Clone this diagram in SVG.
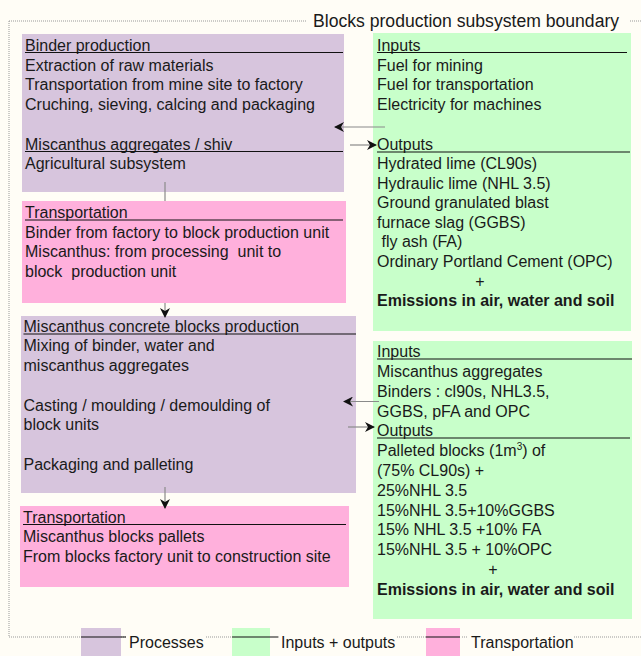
<svg xmlns="http://www.w3.org/2000/svg" width="641" height="656" viewBox="0 0 641 656">
<defs>
<marker id="ah" viewBox="0 0 10 10" refX="9" refY="5" markerWidth="10" markerHeight="10" markerUnits="userSpaceOnUse" orient="auto">
<path d="M0,0 L10,5 L0,10 L3,5 Z" fill="#111"/>
</marker>
</defs>
<style>
text{font-family:"Liberation Sans",Arial,sans-serif;font-size:16px;fill:#1a1a1a;white-space:pre}
.b{font-weight:bold}
.t{font-size:17.6px}
.proc{fill:#d7c5dd}
.io{fill:#c8ffca}
.tr{fill:#ffb0dc}
.ul{stroke:#111;stroke-width:1.2}
.conn{stroke:#8a8a8a;stroke-width:1.2;fill:none}
.dot{stroke:#999;stroke-width:1;stroke-dasharray:1 1;fill:none}
</style>
<rect width="641" height="656" fill="#fffdf6"/>
<g id="boundary">
<path class="dot" d="M9,21 H306 M630,21 H641 M9,21 V637 H81 M121,637 H126 M206,637 H232 M278,637 H280 M397,637 H426 M462,637 H468 M574,637 H641"/>
<text class="t" x="313" y="27">Blocks production subsystem boundary</text>
</g>
<g id="binder-production">
<rect class="proc" x="22" y="34" width="322" height="158"/>
<text x="25" y="51">Binder production</text>
<line class="ul" x1="25" y1="52.5" x2="343" y2="52.5"/>
<text x="25" y="70.7">Extraction of raw materials</text>
<text x="25" y="90.4">Transportation from mine site to factory</text>
<text x="25" y="110.1">Cruching, sieving, calcing and packaging</text>
<text x="25" y="149.5">Miscanthus aggregates / shiv</text>
<line class="ul" x1="25" y1="151.5" x2="343" y2="151.5"/>
<text x="25" y="169.2">Agricultural subsystem</text>
</g>
<g id="io-binder">
<rect class="io" x="373" y="33" width="258" height="298"/>
<text x="377" y="51">Inputs</text>
<line class="ul" x1="377" y1="52.5" x2="627" y2="52.5"/>
<text x="377" y="70.7">Fuel for mining</text>
<text x="377" y="90.4">Fuel for transportation</text>
<text x="377" y="110.1">Electricity for machines</text>
<text x="377" y="149.5">Outputs</text>
<line class="ul" x1="377" y1="152" x2="630" y2="152"/>
<text x="377" y="169">Hydrated lime (CL90s)</text>
<text x="377" y="188.6">Hydraulic lime (NHL 3.5)</text>
<text x="377" y="208.2">Ground granulated blast</text>
<text x="377" y="227.8">furnace slag (GGBS)</text>
<text x="377" y="247.4"> fly ash (FA)</text>
<text x="377" y="267">Ordinary Portland Cement (OPC)</text>
<text x="480" y="286.6" text-anchor="middle">+</text>
<text class="b" x="377" y="306.2">Emissions in air, water and soil</text>
</g>
<g id="transport-1">
<rect class="tr" x="22" y="201" width="324" height="102"/>
<text x="25" y="218">Transportation</text>
<line class="ul" x1="25" y1="220" x2="343" y2="220"/>
<text x="25" y="237.7">Binder from factory to block production unit</text>
<text x="25" y="257.4">Miscanthus: from processing  unit to</text>
<text x="25" y="277.1">block  production unit</text>
</g>
<g id="blocks-production">
<rect class="proc" x="21" y="316" width="335" height="177"/>
<text x="23.5" y="331.7">Miscanthus concrete blocks production</text>
<line class="ul" x1="23.5" y1="334" x2="356" y2="334"/>
<text x="23.5" y="351.4">Mixing of binder, water and</text>
<text x="23.5" y="371.1">miscanthus aggregates</text>
<text x="23.5" y="410.5">Casting / moulding / demoulding of</text>
<text x="23.5" y="430.2">block units</text>
<text x="23.5" y="469.6">Packaging and palleting</text>
</g>
<g id="io-blocks">
<rect class="io" x="373" y="341" width="259" height="278"/>
<text x="377" y="357.3">Inputs</text>
<line class="ul" x1="377" y1="359" x2="632" y2="359"/>
<text x="377" y="377">Miscanthus aggregates</text>
<text x="377" y="396.8">Binders : cl90s, NHL3.5,</text>
<text x="377" y="416.6">GGBS, pFA and OPC</text>
<text x="377" y="436">Outputs</text>
<line class="ul" x1="377" y1="438" x2="630" y2="438"/>
<text x="377" y="456.2">Palleted blocks (1m<tspan font-size="10" dy="-6">3</tspan><tspan dy="6">) of</tspan></text>
<text x="377" y="476">(75% CL90s) +</text>
<text x="377" y="495.8">25%NHL 3.5</text>
<text x="377" y="515.6">15%NHL 3.5+10%GGBS</text>
<text x="377" y="535.4">15% NHL 3.5 +10% FA</text>
<text x="377" y="555.2">15%NHL 3.5 + 10%OPC</text>
<text x="493" y="575" text-anchor="middle">+</text>
<text class="b" x="377" y="594.8">Emissions in air, water and soil</text>
</g>
<g id="transport-2">
<rect class="tr" x="20" y="506" width="329" height="81"/>
<text x="23" y="522.7">Transportation</text>
<line class="ul" x1="23" y1="524.5" x2="346" y2="524.5"/>
<text x="23" y="542.4">Miscanthus blocks pallets</text>
<text x="23" y="562.1">From blocks factory unit to construction site</text>
</g>
<g id="connectors">
<line class="conn" x1="165" y1="182" x2="165" y2="201"/>
<line class="conn" x1="165" y1="303" x2="165" y2="317" marker-end="url(#ah)"/>
<line class="conn" x1="165" y1="487" x2="165" y2="508" marker-end="url(#ah)"/>
<line class="conn" x1="385" y1="127" x2="335" y2="127" marker-end="url(#ah)"/>
<line class="conn" x1="350" y1="145" x2="376" y2="145" marker-end="url(#ah)"/>
<line class="conn" x1="379" y1="401.5" x2="344" y2="401.5" marker-end="url(#ah)"/>
<line class="conn" x1="348" y1="427" x2="374" y2="427" marker-end="url(#ah)"/>
</g>
<g id="legend">
<rect class="proc" x="81" y="628" width="40" height="28"/>
<line class="ul" x1="81" y1="637" x2="126" y2="637"/>
<text x="129" y="648">Processes</text>
<rect class="io" x="232" y="628" width="38" height="28"/>
<line class="ul" x1="232" y1="637" x2="278" y2="637"/>
<text x="281" y="648">Inputs + outputs</text>
<rect class="tr" x="426" y="628" width="34" height="28"/>
<line class="ul" x1="426" y1="637" x2="460" y2="637"/>
<text x="471" y="648">Transportation</text>
</g>
</svg>
